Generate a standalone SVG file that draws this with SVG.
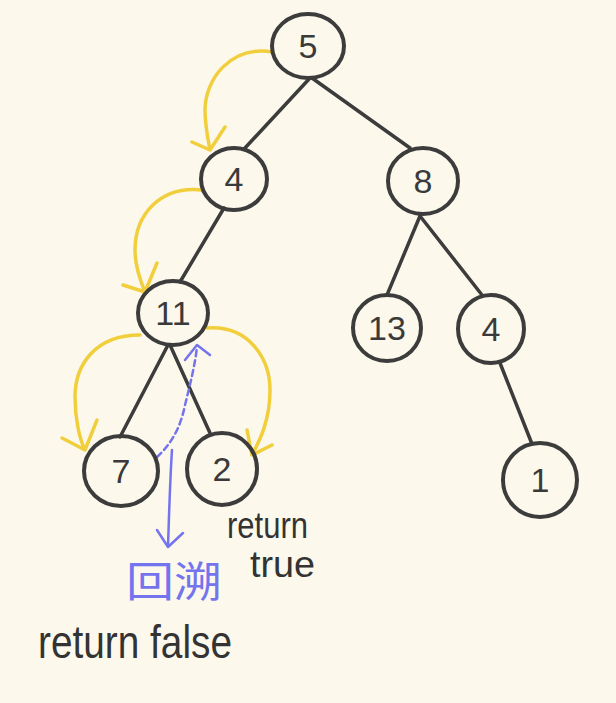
<svg xmlns="http://www.w3.org/2000/svg" width="616" height="703" viewBox="0 0 616 703">
<defs>
<style>
.bg{fill:#fcf8eb}
.node ellipse{fill:none;stroke:#3c3c3c;stroke-width:4}
.node text{font-family:"Liberation Sans",Arial,sans-serif;font-size:34px;fill:#3a3a3a;text-anchor:middle}
.edge{stroke:#3c3c3c;stroke-width:3.5;fill:none;stroke-linecap:round}
.trav{stroke:#f1cf3c;stroke-width:3.5;fill:none;stroke-linecap:round;stroke-linejoin:round}
.back{stroke:#7474ee;stroke-width:2.5;fill:none;stroke-linecap:round;stroke-linejoin:round}
.dash{stroke-dasharray:6 4}
.lbl{font-family:"Liberation Sans",Arial,sans-serif;fill:#333}
.cn{font-family:"Noto Sans CJK SC",sans-serif;fill:#7474ee}
</style>
</defs>
<rect class="bg" width="616" height="703"/>
<g id="connectors">
<line class="edge" x1="310" y1="78" x2="245" y2="148"/>
<line class="edge" x1="312" y1="78" x2="410" y2="148"/>
<line class="edge" x1="224" y1="208" x2="180" y2="282"/>
<line class="edge" x1="420" y1="216" x2="387" y2="295"/>
<line class="edge" x1="420" y1="216" x2="482" y2="295"/>
<line class="edge" x1="500" y1="363" x2="532" y2="444"/>
<line class="edge" x1="168" y1="345" x2="120" y2="437"/>
<line class="edge" x1="170" y1="345" x2="210" y2="433"/>
<path class="trav" d="M273,52 C230,45 205,80 205,110 C205,125 208,140 210,150 M225,127 L210,150 L192,142"/>
<path class="trav" d="M203,190 C160,185 135,215 135,250 C135,265 140,280 145,292 M157,263 L145,292 L123,285"/>
<path class="trav" d="M140,335 C95,335 75,365 75,397 C75,420 80,440 85,450 M97,420 L85,450 L62,438"/>
<path class="trav" d="M207,328 C250,325 270,360 270,390 C270,420 260,440 252,455 M247,430 L252,455 L272,445"/>
<path class="back dash" d="M157,457 C170,445 180,430 185,405 C190,385 195,365 197,347"/>
<path class="back" d="M185,360 L197,345 L210,355"/>
<path class="back" d="M172,450 C170,480 169,515 168,547 M157,530 L168,547 L183,533"/>
</g>
<g id="n5" class="node"><ellipse cx="308" cy="46" rx="36" ry="32"/><text x="308" y="58">5</text></g>
<g id="n4" class="node"><ellipse cx="234" cy="179" rx="33" ry="31"/><text x="234" y="191">4</text></g>
<g id="n8" class="node"><ellipse cx="423" cy="181" rx="35" ry="33"/><text x="423" y="193">8</text></g>
<g id="n11" class="node"><ellipse cx="173" cy="313" rx="35" ry="32"/><text x="173" y="325">11</text></g>
<g id="n13" class="node"><ellipse cx="387" cy="328" rx="34" ry="33"/><text x="387" y="340">13</text></g>
<g id="n4r" class="node"><ellipse cx="491" cy="329" rx="33" ry="34"/><text x="491" y="341">4</text></g>
<g id="n7" class="node"><ellipse cx="121" cy="471" rx="37" ry="35"/><text x="121" y="483">7</text></g>
<g id="n2" class="node"><ellipse cx="222" cy="469" rx="35" ry="36"/><text x="222" y="481">2</text></g>
<g id="n1" class="node"><ellipse cx="540" cy="480" rx="37" ry="37"/><text x="540" y="492">1</text></g>
<g id="labels">
<text class="cn" x="126" y="597" font-size="42" textLength="96" lengthAdjust="spacingAndGlyphs">回溯</text>
<text class="lbl" x="227" y="538" font-size="36" textLength="81" lengthAdjust="spacingAndGlyphs">return</text>
<text class="lbl" x="250" y="577" font-size="36" textLength="65" lengthAdjust="spacingAndGlyphs">true</text>
<text class="lbl" x="38" y="658" font-size="46" textLength="194" lengthAdjust="spacingAndGlyphs">return false</text>
</g>
</svg>
